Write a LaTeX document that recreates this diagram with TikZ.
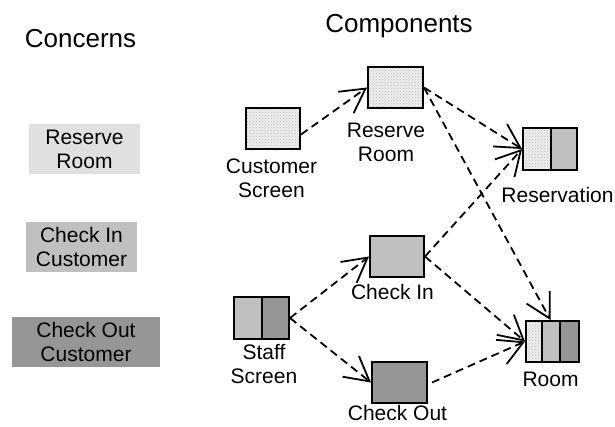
\documentclass[tikz,border=0pt]{standalone}
\usepackage{fontspec}
\setmainfont{Liberation Sans}
\usetikzlibrary{arrows.meta,calc,patterns}
\definecolor{lg}{HTML}{E0E0E0}
\definecolor{mg}{HTML}{C0C0C0}
\definecolor{dg}{HTML}{969696}
\definecolor{chk}{HTML}{EEEEEE}
\begin{document}
\begin{tikzpicture}[x=1pt,y=-1pt,
  head/.style={font=\fontsize{26}{30}\selectfont, anchor=base, inner sep=0},
  lbl/.style={font=\fontsize{21}{24}\selectfont, align=center, inner sep=0},
  concern/.style={lbl, minimum height=50},
  comp/.style={draw, line width=2pt, minimum width=54, minimum height=41, inner sep=0},
  dep/.style={dash pattern=on 8pt off 5pt, line width=1.8pt,
    -{Straight Barb[length=20pt,width=22pt,line width=1.8pt,scale=1.2]}},
  checker/.style={fill=chk, postaction={pattern=crosshatch dots, pattern color=gray!55}},
]
\useasboundingbox (0,0) rectangle (615,426);

% headers
\node[head] (hconc) at (80.5,47) {Concerns};
\node[head] (hcomp) at (399,32) {Components};

% concerns
\node[concern, fill=lg, minimum width=111] (c1) at (84.5,149) {Reserve\\Room};
\node[concern, fill=mg, minimum width=111] (c2) at (81.5,247) {Check In\\Customer};
\node[concern, fill=dg, minimum width=148] (c3) at (86,342) {Check Out\\Customer};

% components
\node[comp, path picture={
    \fill[checker] (path picture bounding box.south west) rectangle (path picture bounding box.north east);
  }] (cs) at (273,128.5) {};
\node[comp, minimum width=55, path picture={
    \fill[checker] (path picture bounding box.south west) rectangle (path picture bounding box.north east);
  }] (rr) at (395.5,87.5) {};
\node[comp, minimum height=42, path picture={
    \coordinate (a) at (path picture bounding box.north west);
    \coordinate (b) at (path picture bounding box.south east);
    \fill[checker] (a) rectangle ($(a|-b)!0.52!(b)$);
    \fill[mg] ($(a)!0.52!(a-|b)$) rectangle (b);
    \draw[line width=2pt] ($(a)!0.52!(a-|b)$) -- ($(a|-b)!0.52!(b)$);
  }] (resv) at (550,149) {};
\node[comp, fill=mg] (ci) at (397,256.5) {};
\node[comp, minimum width=55, minimum height=42, path picture={
    \coordinate (a) at (path picture bounding box.north west);
    \coordinate (b) at (path picture bounding box.south east);
    \fill[mg] (a) rectangle ($(a|-b)!0.51!(b)$);
    \fill[dg] ($(a)!0.51!(a-|b)$) rectangle (b);
    \draw[line width=2pt] ($(a)!0.51!(a-|b)$) -- ($(a|-b)!0.51!(b)$);
  }] (ss) at (261.5,318) {};
\node[comp, minimum width=55, fill=dg] (co) at (399.5,382.5) {};
\node[comp, minimum width=53, path picture={
    \coordinate (a) at (path picture bounding box.north west);
    \coordinate (b) at (path picture bounding box.south east);
    \fill[checker] (a) rectangle ($(a|-b)!0.30!(b)$);
    \fill[mg] ($(a)!0.30!(a-|b)$) rectangle ($(a|-b)!0.64!(b)$);
    \fill[dg] ($(a)!0.64!(a-|b)$) rectangle (b);
    \draw[line width=2pt] ($(a)!0.30!(a-|b)$) -- ($(a|-b)!0.30!(b)$);
    \draw[line width=2pt] ($(a)!0.64!(a-|b)$) -- ($(a|-b)!0.64!(b)$);
  }] (room) at (552.5,341.5) {};

% labels
\node[lbl] (csl) at (271.5,178) {Customer\\Screen};
\node[lbl] (rrl) at (386,142.5) {Reserve\\Room};
\node[lbl] (resvl) at (557.5,195) {Reservation};
\node[lbl] (cil) at (392.5,292) {Check In};
\node[lbl] (ssl) at (264,363.5) {Staff\\Screen};
\node[lbl] (col) at (397.5,413) {Check Out};
\node[lbl] (rooml) at (550.5,379.5) {Room};

% dependencies
\draw[dep] ([yshift=-6pt]cs.east) -- (rr.west);
\draw[dep] (rr.east) -- (resv.west);
\draw[dep] (rr.east) -- ([xshift=-2pt]room.north);
\draw[dep] (ci.east) -- (resv.west);
\draw[dep] (ci.east) -- (room.west);
\draw[dep] (ss.east) -- (ci.west);
\draw[dep] (ss.east) -- (co.west);
\draw[dep] ([xshift=4pt]co.east) -- (room.west);
\end{tikzpicture}
\end{document}
